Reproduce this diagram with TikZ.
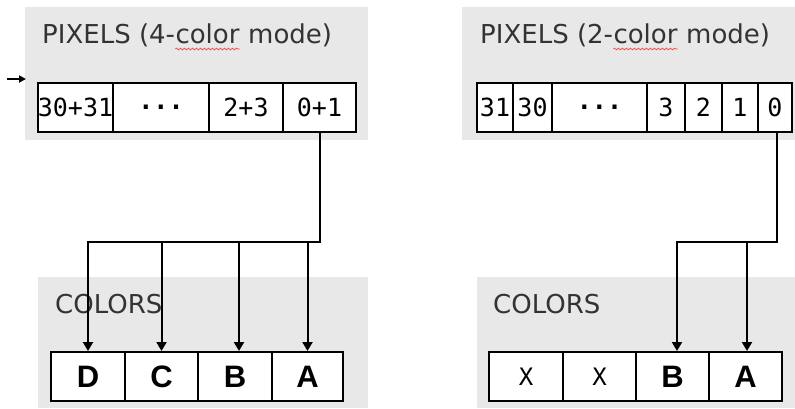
\documentclass[tikz,border=0pt]{standalone}
\usepackage{fontspec}
\setmainfont{DejaVu Sans}
\newfontfamily\cellmono{DejaVu Sans Mono}
\newfontfamily\letterfont{Liberation Sans}
\usetikzlibrary{arrows.meta,decorations.pathmorphing}

\begin{document}
\begin{tikzpicture}[x=1pt,y=-1pt,
  panel/.style={fill=black!9},
  title/.style={anchor=base west,inner sep=0pt,text=black!80,font=\fontsize{26}{30}\selectfont},
  cell/.style={draw,line width=2pt,fill=white,inner sep=0pt,minimum height=49pt,
    font=\cellmono\fontsize{25}{28}\selectfont},
  letter/.style={font=\letterfont\bfseries\fontsize{31}{34}\selectfont},
  dontcare/.style={font=\cellmono\fontsize{24}{26}\selectfont},
  wire/.style={line width=2pt},
  drop/.style={wire,-{Triangle[width=10pt,length=9pt]}},
  squiggle/.style={red!80,line width=0.6pt,decorate,
    decoration={snake,amplitude=0.9pt,segment length=4pt}}
]
\useasboundingbox (0,0) rectangle (795,408);

   \newcommand{\pixcell}[4]{
        \node[cell,minimum width=#3] (#1) at (#2,107.5) {#4};
    }
    \newcommand{\colcell}[5]{
        \node[cell,#5,minimum width=#3] (#1) at (#2,376.5) {#4};
    }
    \newcommand{\skipdots}{\raisebox{1pt}{\bfseries...}}

% grey panels
\fill[panel] (25,7) rectangle (368,140);
\fill[panel] (462,7) rectangle (795,140);
\fill[panel] (38,277) rectangle (368,408);
\fill[panel] (477,277) rectangle (795,408);

% titles
\node[title] (t4a) at (42,43) {PIXELS (4-};
\node[title] (t4b) at (t4a.base east) {color};
\node[title] (t4c) at (t4b.base east) {\ mode)};
\node[title] (t2a) at (480,43) {PIXELS (2-};
\node[title] (t2b) at (t2a.base east) {color};
\node[title] (t2c) at (t2b.base east) {\ mode)};
\draw[squiggle] ([yshift=-6pt]t4b.base west) -- ([yshift=-6pt]t4b.base east);
\draw[squiggle] ([yshift=-6pt]t2b.base west) -- ([yshift=-6pt]t2b.base east);
\node[title] (c4t) at (55,313) {COLORS};
\node[title] (c2t) at (493,313) {COLORS};

% pixel cells, 4-color mode
\pixcell{p4a}{75.5}{75}{30+31}
\pixcell{p4b}{161}{96}{\skipdots}
\pixcell{p4c}{246}{74}{2+3}
\pixcell{p4d}{319.5}{73}{0+1}

% pixel cells, 2-color mode
\pixcell{p2a}{495}{36}{31}
\pixcell{p2b}{532.5}{39}{30}
\pixcell{p2c}{599.5}{95}{\skipdots}
\pixcell{p2d}{666}{38}{3}
\pixcell{p2e}{703.5}{37}{2}
\pixcell{p2f}{740}{36}{1}
\pixcell{p2g}{775}{34}{0}

% color cells
\colcell{c4d}{88}{74}{D}{letter}
\colcell{c4c}{161.5}{73}{C}{letter}
\colcell{c4b}{235}{74}{B}{letter}
\colcell{c4a}{307.5}{71}{A}{letter}

\colcell{c2x}{526}{74}{X}{dontcare}
\colcell{c2y}{599.5}{73}{X}{dontcare}
\colcell{c2b}{672.5}{73}{B}{letter}
\colcell{c2a}{745.5}{73}{A}{letter}

% small feed arrow
\coordinate (feedS) at (7,79);
\coordinate (feedE) at (26,79);
\draw[wire,-{Triangle[width=7pt,length=7pt]}] (feedS) -- (feedE);

% connectors, 4-color mode
\coordinate (busL) at (0,242);
\draw[drop] (p4d.south) -- (p4d.south |- busL) -| (c4d.north);
\draw[drop] (c4c.north |- busL) -- (c4c.north);
\draw[drop] ([xshift=4pt]c4b.north |- busL) -- ([xshift=4pt]c4b.north);
\draw[drop] (c4a.north |- busL) -- (c4a.north);

% connectors, 2-color mode
\coordinate (busR) at (0,242);
\draw[drop] ([xshift=2pt]p2g.south) -- ([xshift=2pt]p2g.south |- busR) -| ([xshift=4.5pt]c2b.north);
\draw[drop] ([xshift=1.5pt]c2a.north |- busR) -- ([xshift=1.5pt]c2a.north);

\end{tikzpicture}
\end{document}
